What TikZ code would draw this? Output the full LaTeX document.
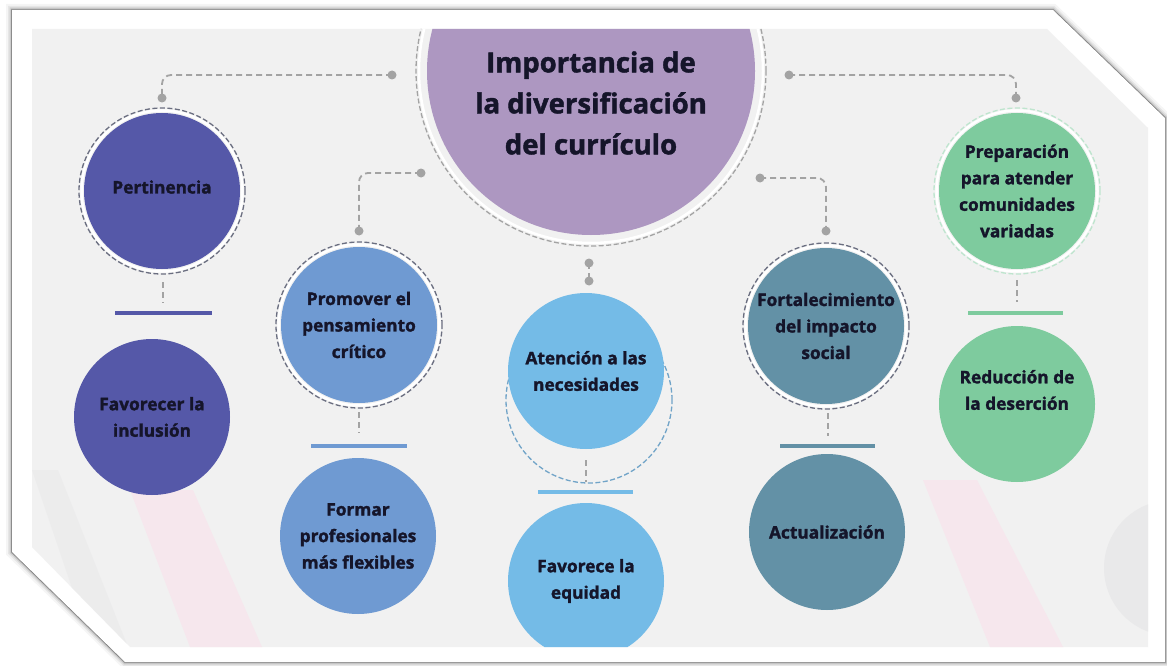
\documentclass[tikz,border=0pt]{standalone}
\usepackage{fontspec}
\setmainfont{Open Sans}[BoldFeatures={FakeBold=1.6}]
\usetikzlibrary{calc}
\definecolor{bgc}{HTML}{F1F1F1}
\definecolor{txt}{HTML}{15152A}
\definecolor{cctr}{HTML}{AD97C1}
\definecolor{cpert}{HTML}{5558A8}
\definecolor{cprom}{HTML}{6F9AD2}
\definecolor{caten}{HTML}{74BBE7}
\definecolor{cfort}{HTML}{6391A6}
\definecolor{cprep}{HTML}{7ECB9E}
\definecolor{ringc}{HTML}{6A6E80}
\definecolor{connc}{HTML}{A3A3A3}
\definecolor{pinkc}{HTML}{F6E7ED}
\definecolor{grayb}{HTML}{E9E9EA}
\begin{document}
\begin{tikzpicture}[x=1pt,y=-1pt,
  bub/.style={circle, minimum size=156pt, inner sep=0pt, align=center, text=txt,
    font=\bfseries\fontsize{17.3}{26.5}\selectfont},
  ring/.style={draw=ringc, line width=1.3pt, dash pattern=on 5pt off 2.5pt},
  halo/.style={draw=white, line width=2.5pt},
  conn/.style={draw=connc, line width=1.8pt, dash pattern=on 6pt off 4pt, rounded corners=9pt},
  dot/.style={fill=connc},
  barline/.style={line width=4pt}
]
\useasboundingbox (0,0) rectangle (1167,666);
\fill[white] (0,0) rectangle (1167,666);
% frame shadow
\foreach \w/\o in {12/0.04,8/0.06,5/0.09,2.5/0.16,1.2/0.3}{
  \draw[black, opacity=\o, line width=\w pt, line join=miter]
    (12,10) -- (1053,10) -- (1165,118) -- (1165,662) -- (125,662) -- (12,552) -- cycle;
}
\fill[white] (12,10) -- (1053,10) -- (1165,118) -- (1165,662) -- (125,662) -- (12,552) -- cycle;
% inner area
\fill[bgc] (32,29) -- (1047,29) -- (1148,128) -- (1148,647) -- (130,647) -- (32,547) -- cycle;
\begin{scope}
\clip (32,29) -- (1047,29) -- (1148,128) -- (1148,647) -- (130,647) -- (32,547) -- cycle;
% faint background bands
\fill[grayb, opacity=0.6] (32,470) -- (58,470) -- (128,647) -- (92,647) -- cycle;
\fill[pinkc] (130,490) -- (193,490) -- (262,647) -- (190,647) -- cycle;
\fill[pinkc] (923,480) -- (977,480) -- (1063,647) -- (990,647) -- cycle;
\fill[grayb] (1172,568) circle (68pt);
% central circle
\draw[halo] (591,71) circle (172pt);
\draw[ring, draw=connc] (591,71) circle (175pt);
\node[circle, minimum size=328pt, inner sep=0pt, fill=cctr] (ctr) at (591,71) {};
\node[align=center, text=txt, font=\bfseries\fontsize{27.5}{41}\selectfont] (ctrtxt) at (591,103)
  {Importancia de\\la diversificación\\del currículo};

% ---------- Pertinencia column
\draw[halo] (162,191) circle (80.5pt);
\draw[ring] (162,191) circle (83pt);
\node[bub, fill=cpert] (pert) at (162,191) {};
\node[text=txt, font=\bfseries\fontsize{17.3}{26.5}\selectfont] (perttxt) at (162,187) {Pertinencia};
\node[bub, fill=cpert] (incl) at (152,417) {Favorecer la\\inclusión};
\coordinate (pbar1) at (115,313); \coordinate (pbar2) at (212,313);
\draw[barline, cpert] (pbar1) -- (pbar2);

% ---------- Promover column
\draw[halo] (359,325) circle (80.5pt);
\draw[ring] (359,325) circle (83pt);
\node[bub, fill=cprom] (prom) at (359,325) {Promover el\\pensamiento\\crítico};
\node[bub, fill=cprom] (form) at (358,536) {Formar\\profesionales\\más flexibles};
\coordinate (mbar1) at (311,446); \coordinate (mbar2) at (407,446);
\draw[barline, cprom] (mbar1) -- (mbar2);

% ---------- Atencion column
\draw[ring, draw=caten!70!ringc] (589,400) circle (83pt);
\node[bub, fill=caten] (aten) at (586,371) {Atención a las\\necesidades};
\node[bub, fill=caten] (equi) at (586,581) {Favorece la\\equidad};
\coordinate (abar1) at (538,492); \coordinate (abar2) at (633,492);
\draw[barline, caten] (abar1) -- (abar2);

% ---------- Fortalecimiento column
\draw[halo] (826,326) circle (80.5pt);
\draw[ring] (826,326) circle (83pt);
\node[bub, fill=cfort] (fort) at (826,326) {Fortalecimiento\\del impacto\\social};
\node[bub, fill=cfort] (actu) at (827,532) {Actualización};
\coordinate (fbar1) at (780,446); \coordinate (fbar2) at (875,446);
\draw[barline, cfort] (fbar1) -- (fbar2);

% ---------- Preparacion column
\draw[halo] (1017,191) circle (80.5pt);
\draw[ring, draw=cprep!50!white] (1017,191) circle (83pt);
\node[bub, fill=cprep] (prep) at (1017,191) {Preparación\\para atender\\comunidades\\variadas};
\node[bub, fill=cprep] (redu) at (1017,404) {};
\node[align=center, text=txt, font=\bfseries\fontsize{17.3}{26.5}\selectfont] (redutxt) at (1017,390) {Reducción de\\la deserción};
\coordinate (rbar1) at (968,313); \coordinate (rbar2) at (1063,313);
\draw[barline, cprep] (rbar1) -- (rbar2);
\end{scope}

% ---------- connectors from the centre
\coordinate (c1) at (392,75);  \coordinate (t1) at (162,98);
\coordinate (c2) at (421,173); \coordinate (t2) at (359,231);
\coordinate (c3) at (589,263); \coordinate (t3) at (589,281);
\coordinate (c4) at (760,178); \coordinate (t4) at (826,231);
\coordinate (c5) at (789,75);  \coordinate (t5) at (1016,98);
\draw[conn] (c1) -| (t1);
\draw[conn] (c2) -| (t2);
\draw[conn] (c3) -- (t3);
\draw[conn] (c4) -| (t4);
\draw[conn] (c5) -| (t5);
\foreach \p in {c1,t1,c2,t2,c3,t3,c4,t4,c5,t5}{\fill[dot] (\p) circle (4.5pt);}

% ---------- short dashed links to the bars
\coordinate (u1) at (163,282); \coordinate (v1) at (163,303);
\coordinate (u2) at (359,412); \coordinate (v2) at (359,433);
\coordinate (u3) at (586,460); \coordinate (v3) at (586,482);
\coordinate (u4) at (828,413); \coordinate (v4) at (828,436);
\coordinate (u5) at (1017,280); \coordinate (v5) at (1017,302);
\foreach \i in {1,...,5}{\draw[conn, line width=1.5pt] (u\i) -- (v\i);}
\end{tikzpicture}
\end{document}
